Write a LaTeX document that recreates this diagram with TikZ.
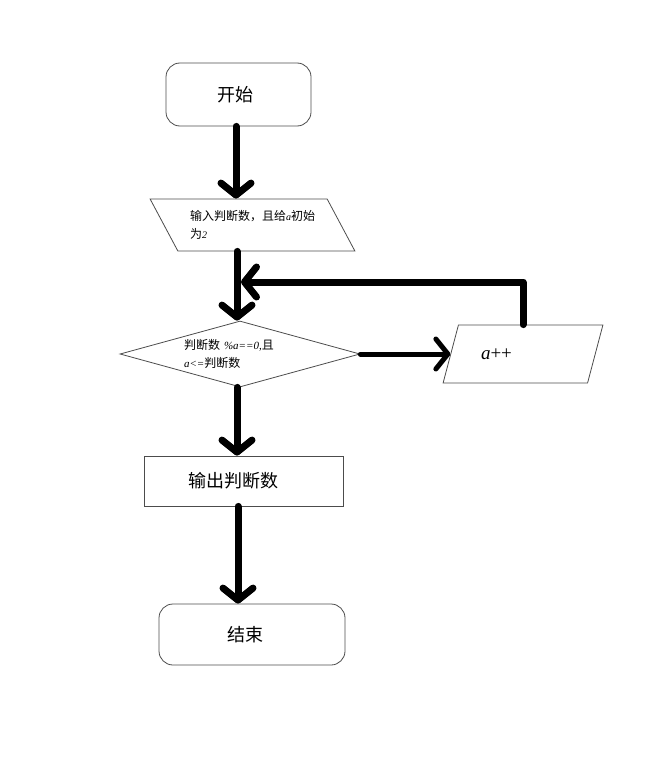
\documentclass[tikz,border=0pt]{standalone}
\usepackage{fontspec}
\setmainfont{Liberation Serif}
\newfontfamily\cjk{Noto Sans CJK SC}
\usetikzlibrary{shapes.geometric,arrows.meta}

\begin{document}
\begin{tikzpicture}[x=1pt,y=-1pt,
    box/.style={draw=black!70,line width=0.8pt,font=\cjk\fontsize{18}{20}\selectfont,align=left},
    terminal/.style={box,rounded corners=14pt},
    io/.style={box,trapezium,trapezium stretches=true,inner sep=2pt},
    decision/.style={box,diamond,aspect=3.6,minimum width=240pt,minimum height=66pt,inner sep=0pt},
    flow/.style={line width=7pt,line cap=round,line join=round,-{Straight Barb[length=12pt,width=30pt,round]}}]

        \useasboundingbox (0,0) rectangle (645,760);

        % Start
        \node[terminal,minimum width=145pt,minimum height=63pt,text width=43pt] (start) at (238.5,94.5) {开始};

        % Input
        \node[io,trapezium left angle=126,trapezium right angle=54,minimum width=205pt,minimum height=52pt,
            font=\cjk\fontsize{12}{18}\selectfont] (input) at (252.5,225)
            {输入判断数，且给{\rmfamily\itshape\fontsize{10}{12}\selectfont a}初始\\为{\rmfamily\itshape\fontsize{10}{12}\selectfont 2}};

        % Test
        \node[decision,font=\cjk\fontsize{12}{18}\selectfont,text width=112pt] (test) at (240,354)
            {判断数 {\rmfamily\itshape\fontsize{11}{12}\selectfont \%a==0,}且\\{\rmfamily\itshape\fontsize{11}{12}\selectfont a<=}判断数};

        % a++
        \node[io,trapezium left angle=55,trapezium right angle=125,minimum width=160pt,minimum height=58pt,
            font=\rmfamily\fontsize{19}{22}\selectfont,text width=84pt] (inc) at (523,354) {\textit{a}++};

        % Output
        \node[box,minimum width=199pt,minimum height=50pt,text width=111pt] (output) at (243.5,481) {输出判断数};

        % End
        \node[terminal,minimum width=186pt,minimum height=61pt,text width=50pt] (stop) at (252,634.5) {结束};

        % Connectors
        \coordinate (back) at (241,282);
        \draw[flow] ([xshift=-2.5pt]start.south) -- ([xshift=-2.5pt]start.south |- input.north);
        \draw[flow] ([xshift=-3pt]test.north |- input.south) -- ([xshift=-3pt]test.north);
        \draw[flow,line width=5pt] (test.east) -- (test.east -| inc.west);
        \draw[flow] (inc.north) |- (back);
        \draw[flow] ([xshift=-3pt]test.south) -- ([xshift=-3pt]test.south |- output.north);
        \draw[flow] ([xshift=-5.5pt]output.south) -- ([xshift=-5.5pt]output.south |- stop.north);
\end{tikzpicture}
\end{document}
